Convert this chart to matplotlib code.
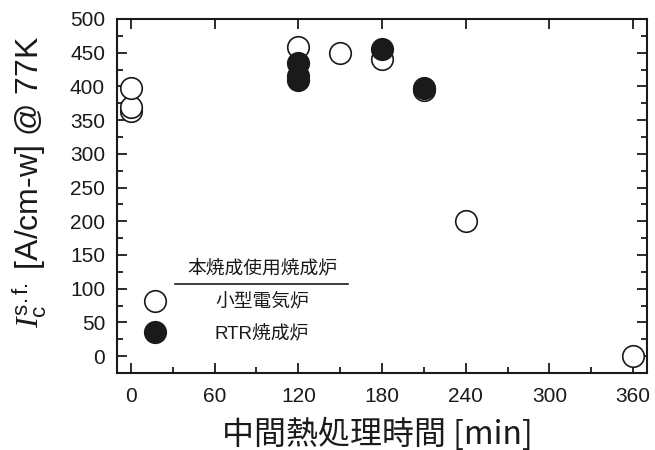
import matplotlib
matplotlib.use("Agg")
import matplotlib.pyplot as plt
from matplotlib.ticker import MultipleLocator
from matplotlib.lines import Line2D

plt.rcParams['font.family'] = ['Liberation Sans', 'Noto Sans CJK JP', 'DejaVu Sans']
plt.rcParams['mathtext.fontset'] = 'custom'
plt.rcParams['mathtext.it'] = 'Liberation Serif:italic'
plt.rcParams['mathtext.rm'] = 'Liberation Sans'

# Data
small_x = [0, 0, 0, 120, 150, 180, 210, 240, 360]
small_y = [363, 370, 397, 458, 450, 441, 394, 200, 0]
rtr_x = [120, 120, 120, 180, 210]
rtr_y = [435, 415, 410, 456, 397]

legend_title = "本焼成使用焼成炉"
legend_labels = ["小型電気炉", "RTR焼成炉"]
xticks = [0, 60, 120, 180, 240, 300, 360]
yticks = [0, 50, 100, 150, 200, 250, 300, 350, 400, 450, 500]

fig = plt.figure(figsize=(6.55, 4.5), dpi=100)
ax = fig.add_axes([117/655, 1-373/450, (647-117)/655, (373-19)/450])

ms = 15.5
ax.plot(small_x, small_y, 'o', ms=ms, mfc='white', mec='#1a1a1a', mew=1.2, ls='none', zorder=3)
ax.plot(rtr_x, rtr_y, 'o', ms=ms, mfc='#1a1a1a', mec='#1a1a1a', mew=1.2, ls='none', zorder=4)

ax.set_xlim(-10, 370)
ax.set_ylim(-25, 500)
ax.set_xticks(xticks)
ax.set_yticks(yticks)
ax.xaxis.set_minor_locator(MultipleLocator(30))
ax.yaxis.set_minor_locator(MultipleLocator(25))
ax.tick_params(which='major', direction='in', length=7, width=1.3, labelsize=15,
               top=True, right=True, colors='#1a1a1a')
ax.tick_params(axis='x', which='major', pad=10)
ax.tick_params(axis='y', which='major', pad=8.6)
ax.tick_params(which='minor', direction='in', length=4, width=1.3,
               top=False, right=True, colors='#1a1a1a')
for s in ax.spines.values():
    s.set_linewidth(1.5)
    s.set_color('#1a1a1a')

ax.set_xlabel("中間熱処理時間 [min]", fontsize=23, family=['Noto Sans CJK JP', 'DejaVu Sans'],
              color='#1a1a1a', va='top')
ax.xaxis.set_label_coords(0.5 - 5/530, (373 - 418) / 354)
ax.set_ylabel(r"$I_{\mathrm{c}}^{\mathrm{s.f.}}$ [A/cm-w] @ 77K", fontsize=23,
              color='#1a1a1a')
ax.yaxis.set_label_coords((49 - 117) / 530, (373 - 182) / 354)

# Legend drawn manually in axes coordinates
def px2ax(x, y):
    return ((x - 117) / (647 - 117), (373 - y) / (373 - 19))

cjk = ['Noto Sans CJK JP', 'DejaVu Sans']
tx, ty = px2ax(262, 268)
ax.text(tx, ty, legend_title, transform=ax.transAxes, ha='center', va='center',
        fontsize=13.5, family=cjk, color='#1a1a1a')
x0, yl = px2ax(175, 284)
x1, _ = px2ax(348, 284)
ax.add_line(Line2D([x0, x1], [yl, yl], transform=ax.transAxes, color='#1a1a1a', lw=1.2))
mx, my1 = px2ax(155, 301)
_, my2 = px2ax(155, 332)
ax.plot([mx], [my1], 'o', ms=ms, mfc='white', mec='#1a1a1a', mew=1.2, transform=ax.transAxes, clip_on=False)
ax.plot([mx], [my2], 'o', ms=ms, mfc='#1a1a1a', mec='#1a1a1a', mew=1.2, transform=ax.transAxes, clip_on=False)
lx1, ly1 = px2ax(262, 301)
lx2, ly2 = px2ax(262, 334)
ax.text(lx1, ly1, legend_labels[0], transform=ax.transAxes, ha='center', va='center',
        fontsize=13.5, family=cjk, color='#1a1a1a')
ax.text(lx2, ly2, legend_labels[1], transform=ax.transAxes, ha='center', va='center',
        fontsize=13.5, family=['Liberation Sans', 'Noto Sans CJK JP'], color='#1a1a1a')

fig.savefig("out.png", dpi=100)
